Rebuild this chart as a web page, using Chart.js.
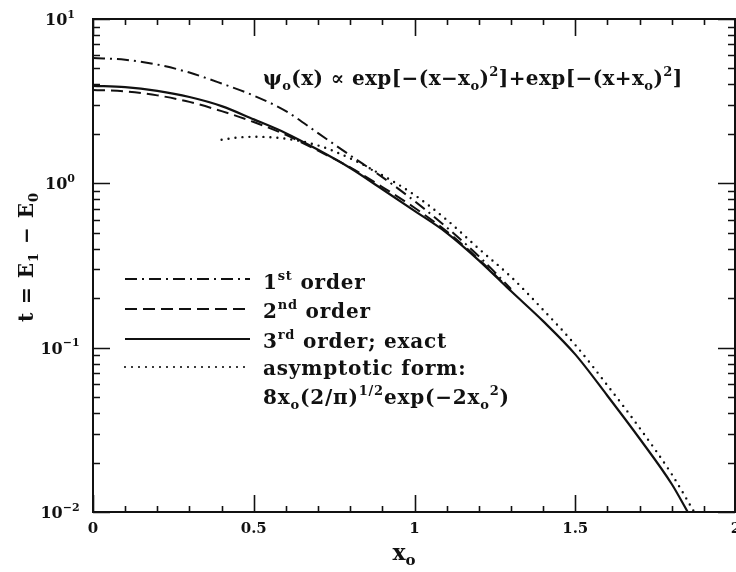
<!DOCTYPE html>
<html>
<head>
<meta charset="utf-8">
<script src="https://cdn.jsdelivr.net/npm/chart.js@4.4.1/dist/chart.umd.min.js"></script>
<style>
  html, body { margin: 0; padding: 0; background: #fff; }
  #wrap { position: relative; width: 736px; height: 572px; }
</style>
</head>
<body>
<div id="wrap"><canvas id="tunnel"></canvas></div>
<script>
// tunnel splitting t = E1 - E0 against well offset x0
const x1st = [0, 0.1, 0.2, 0.3, 0.4, 0.5, 0.6, 0.7, 0.8, 0.9, 1.0, 1.1, 1.2, 1.3];
const t1st = [5.8, 5.65, 5.28, 4.72, 4.05, 3.42, 2.75, 2.02, 1.48, 1.09, 0.78, 0.54, 0.36, 0.228];

const x2nd = [0, 0.1, 0.2, 0.3, 0.4, 0.5, 0.6, 0.7, 0.8, 0.9, 1.0, 1.1, 1.2, 1.3];
const t2nd = [3.70, 3.63, 3.43, 3.13, 2.75, 2.36, 1.97, 1.58, 1.25, 0.95, 0.71, 0.51, 0.345, 0.222];

const xExact = [0, 0.1, 0.2, 0.3, 0.4, 0.5, 0.6, 0.7, 0.8, 0.9, 1.0, 1.1, 1.2, 1.3, 1.4, 1.5, 1.6, 1.7, 1.8, 1.85];
const tExact = [3.92, 3.85, 3.65, 3.35, 2.95, 2.45, 2.02, 1.60, 1.24, 0.92, 0.68, 0.50, 0.34, 0.221, 0.145, 0.091, 0.051, 0.028, 0.0148, 0.0100];

const xAsym = [0.4, 0.45, 0.5, 0.6, 0.7, 0.8, 0.9, 1.0, 1.1, 1.2, 1.3, 1.4, 1.5, 1.6, 1.7, 1.8, 1.87];
const tAsym = [1.84, 1.90, 1.92, 1.87, 1.70, 1.42, 1.12, 0.85, 0.60, 0.40, 0.27, 0.170, 0.104, 0.059, 0.0325, 0.0170, 0.0100];

const xTickValues = [0, 0.5, 1, 1.5, 2];
const xTickLabels = ['0', '0.5', '1', '1.5', '2'];
const yDecades = [0.01, 0.1, 1, 10];
const yExponents = ['\u22122', '\u22121', '0', '1'];

const FONT = '"DejaVu Serif", "Liberation Serif", serif';
const INK = '#111';

const DASH_DOT = [12, 5, 2, 5];
const DASHED = [12, 6];
const DOTTED = [0, 7];

function pts(xs, ts) {
    return xs.map((x, i) => ({ x: x, y: ts[i] }));
}

// text runs: [string, 'n' | 'sup' | 'sub']
function runFont(kind, size) {
    const s = kind === 'n' ? size : Math.round(size * 0.66);
    return 'bold ' + s + 'px ' + FONT;
}

function richWidth(ctx, parts, size) {
    let w = 0;
    parts.forEach(p => {
        ctx.font = runFont(p[1], size);
        w += ctx.measureText(p[0]).width;
    });
    return w;
}

function drawRich(ctx, x, y, parts, size, align, spacing) {
    ctx.letterSpacing = (spacing || 0) + 'px';
    let cx = x;
    if (align === 'center') cx -= richWidth(ctx, parts, size) / 2;
    ctx.textBaseline = 'alphabetic';
    ctx.textAlign = 'left';
    parts.forEach(p => {
        ctx.font = runFont(p[1], size);
        let dy = 0;
        if (p[1] === 'sup') dy = -size * 0.45;
        if (p[1] === 'sub') dy = size * 0.24;
        ctx.fillText(p[0], cx, y + dy);
        cx += ctx.measureText(p[0]).width;
    });
    ctx.letterSpacing = '0px';
}

const legendRows = [
    { dash: DASH_DOT, y: 279, base: 289, parts: [['1', 'n'], ['st', 'sup'], [' order', 'n']] },
    { dash: DASHED, y: 309, base: 318, parts: [['2', 'n'], ['nd', 'sup'], [' order', 'n']] },
    { dash: [], y: 339, base: 348, parts: [['3', 'n'], ['rd', 'sup'], [' order; exact', 'n']] },
    { dash: DOTTED, y: 367, base: 375, parts: [['asymptotic form:', 'n']] }
];

const axesPlugin = {
    id: 'axesPlugin',
    afterDraw(chart) {
        const ctx = chart.ctx;
        const a = chart.chartArea;
        const xs = chart.scales.x;
        const ys = chart.scales.y;
        const left = a.left, top = a.top, bottom = a.bottom, right = a.right - 1;

        ctx.save();
        ctx.strokeStyle = INK;
        ctx.fillStyle = INK;
        ctx.setLineDash([]);

        // frame
        ctx.lineWidth = 2;
        ctx.strokeRect(left, top, right - left, bottom - top);

        // x ticks, bottom and top, pointing inward
        ctx.lineWidth = 1.6;
        ctx.beginPath();
        for (let i = 0; i <= 20; i++) {
            const px = Math.round(xs.getPixelForValue(i / 10)) + 0.5;
            const len = i % 5 === 0 ? 17 : 6;
            ctx.moveTo(px, bottom);
            ctx.lineTo(px, bottom - len);
            ctx.moveTo(px, top);
            ctx.lineTo(px, top + len);
        }
        // y ticks, left and right
        yDecades.forEach((d, di) => {
            const py = Math.round(ys.getPixelForValue(d)) + 0.5;
            ctx.moveTo(left, py);
            ctx.lineTo(left + 17, py);
            ctx.moveTo(right, py);
            ctx.lineTo(right - 17, py);
            if (di < yDecades.length - 1) {
                for (let k = 2; k <= 9; k++) {
                    const pm = Math.round(ys.getPixelForValue(d * k)) + 0.5;
                    ctx.moveTo(left, pm);
                    ctx.lineTo(left + 7, pm);
                    ctx.moveTo(right, pm);
                    ctx.lineTo(right - 7, pm);
                }
            }
        });
        ctx.stroke();

        // x tick labels
        ctx.font = 'bold 15px ' + FONT;
        ctx.textAlign = 'center';
        ctx.textBaseline = 'alphabetic';
        xTickValues.forEach((v, i) => {
            ctx.fillText(xTickLabels[i], xs.getPixelForValue(v), 533);
        });

        // y tick labels 10^n
        yDecades.forEach((d, i) => {
            const py = ys.getPixelForValue(d);
            drawRich(ctx, 60, py + 6, [['10', 'n'], [yExponents[i], 'sup']], 16, 'center');
        });

        // axis titles
        drawRich(ctx, 404, 560, [['x', 'n'], ['o', 'sub']], 22, 'center');
        ctx.save();
        ctx.translate(33, 257);
        ctx.rotate(-Math.PI / 2);
        drawRich(ctx, 0, 0, [['t = E', 'n'], ['1', 'sub'], [' \u2212 E', 'n'], ['0', 'sub']], 20, 'center', 1);
        ctx.restore();

        // wavefunction note
        drawRich(ctx, 263, 85, [
            ['\u03c8', 'n'], ['o', 'sub'], ['(x) \u221d exp[\u2212(x\u2212x', 'n'], ['o', 'sub'], [')', 'n'], ['2', 'sup'],
            [']+exp[\u2212(x+x', 'n'], ['o', 'sub'], [')', 'n'], ['2', 'sup'], [']', 'n']
        ], 20, 'left', 0.4);

        // legend
        legendRows.forEach(r => {
            ctx.beginPath();
            ctx.lineWidth = r.dash === DOTTED ? 2.2 : 1.8;
            ctx.lineCap = r.dash === DOTTED ? 'round' : 'butt';
            ctx.setLineDash(r.dash);
            ctx.moveTo(125, r.y);
            ctx.lineTo(250, r.y);
            ctx.stroke();
            ctx.setLineDash([]);
            drawRich(ctx, 263, r.base, r.parts, 20, 'left', 0.8);
        });
        drawRich(ctx, 263, 404, [
            ['8x', 'n'], ['o', 'sub'], ['(2/\u03c0)', 'n'], ['1/2', 'sup'], ['exp(\u22122x', 'n'], ['o', 'sub'], ['2', 'sup'], [')', 'n']
        ], 20, 'left', 0.8);

        ctx.restore();
    }
};

function series(label, xs, ts, dash, width, cap) {
    return {
        label: label,
        data: pts(xs, ts),
        borderColor: INK,
        borderWidth: width,
        borderDash: dash,
        borderCapStyle: cap || 'butt',
        pointRadius: 0,
        fill: false,
        cubicInterpolationMode: 'monotone'
    };
}

new Chart(document.getElementById('tunnel'), {
    type: 'line',
    data: {
        datasets: [
            series('1st order', x1st, t1st, DASH_DOT, 2),
            series('2nd order', x2nd, t2nd, DASHED, 2),
            series('3rd order; exact', xExact, tExact, [], 2.2),
            series('asymptotic form', xAsym, tAsym, DOTTED, 2.4, 'round')
        ]
    },
    options: {
        responsive: true,
        maintainAspectRatio: false,
        animation: false,
        layout: { padding: { left: 93, right: 0, top: 19, bottom: 60 } },
        scales: {
            x: { type: 'linear', min: 0, max: 2, display: false },
            y: { type: 'logarithmic', min: 0.01, max: 10, display: false }
        },
        plugins: {
            legend: { display: false },
            tooltip: { enabled: false }
        }
    },
    plugins: [axesPlugin]
});
</script>
</body>
</html>
